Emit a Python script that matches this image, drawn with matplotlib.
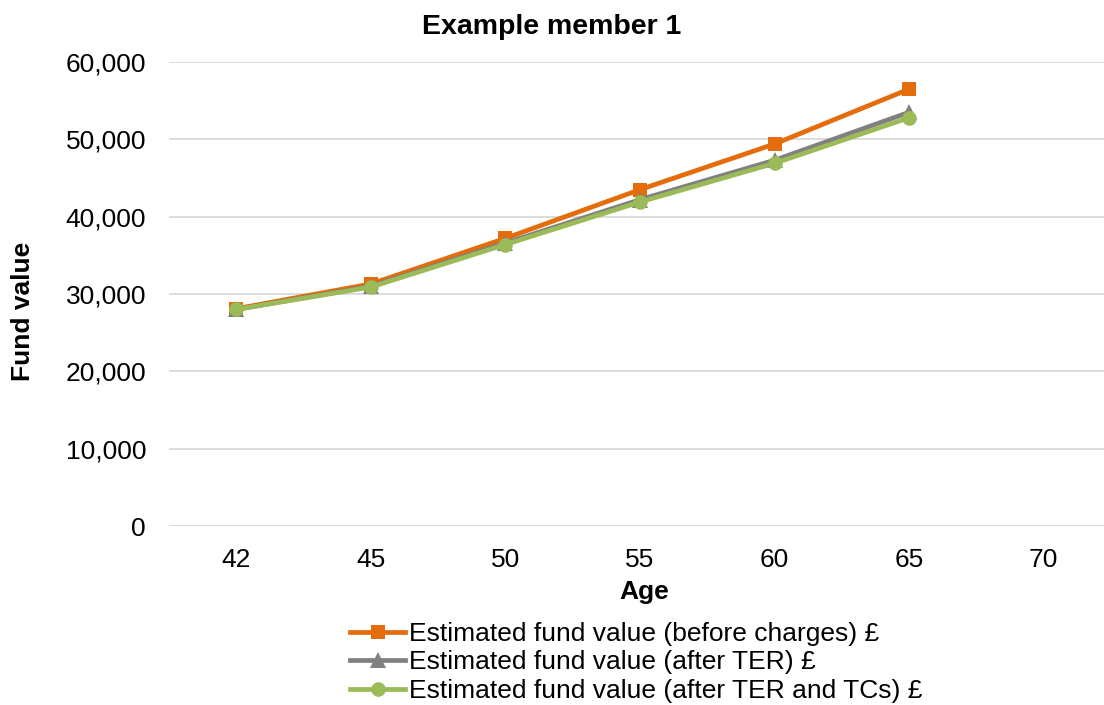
import matplotlib
matplotlib.use("Agg")
import matplotlib.pyplot as plt
from matplotlib.ticker import FuncFormatter

plt.rcParams['font.family'] = ['Liberation Sans', 'DejaVu Sans']

ages = ["42", "45", "50", "55", "60", "65", "70"]
before_charges = [28100, 31300, 37200, 43500, 49400, 56500]
after_ter = [28000, 31000, 36600, 42200, 47300, 53500]
after_ter_tcs = [28000, 30900, 36400, 41900, 46900, 52800]

series = [
    ("Estimated fund value (before charges) £", before_charges, "#E46C0A", "s", 10.5),
    ("Estimated fund value (after TER) £", after_ter, "#808080", "^", 12),
    ("Estimated fund value (after TER and TCs) £", after_ter_tcs, "#9BBB59", "o", 10.5),
]

fig = plt.figure(figsize=(11.04, 7.05), dpi=100)
ax = fig.add_axes([169 / 1104, 1 - 526 / 705, (1111 - 169) / 1104, 464 / 705])

x = list(range(len(ages)))
for label, vals, color, marker, ms in series:
    ax.plot(x[:len(vals)], vals, color=color, lw=3.4, marker=marker,
            markersize=ms, markeredgewidth=0, label=label, zorder=3)

ax.set_xlim(-0.5, len(ages) - 0.5)
ax.set_ylim(0, 60000)
ax.set_yticks(range(0, 60001, 10000))
ax.yaxis.set_major_formatter(FuncFormatter(lambda v, p: f"{int(v):,}"))
ax.set_xticks(x)
ax.set_xticklabels(ages)
ax.grid(axis='y', color='#D9D9D9', lw=1.3, zorder=0)
for s in ax.spines.values():
    s.set_visible(False)
ax.tick_params(axis='both', length=0, labelsize=19, colors='#000000')
ax.tick_params(axis='y', pad=16.5)
ax.tick_params(axis='x', pad=16)

fig.text(644 / 1104, 1 - 592 / 705, "Age", ha='center', va='center',
         fontsize=19, fontweight='bold')
fig.text(23 / 1104, 1 - 311 / 705, "Fund value", ha='center', va='center',
         rotation=90, fontsize=19, fontweight='bold')
fig.text(552 / 1104, 1 - 27 / 705, "Example member 1", ha='center', va='center',
         fontsize=20.5, fontweight='bold')

leg = fig.legend(loc='upper left', bbox_to_anchor=(350 / 1104, 1 - 622 / 705),
                 frameon=False, fontsize=19, handlelength=2.1, handletextpad=0.12,
                 labelspacing=0.17, borderpad=0, borderaxespad=0)

fig.savefig("out.png", dpi=100)
